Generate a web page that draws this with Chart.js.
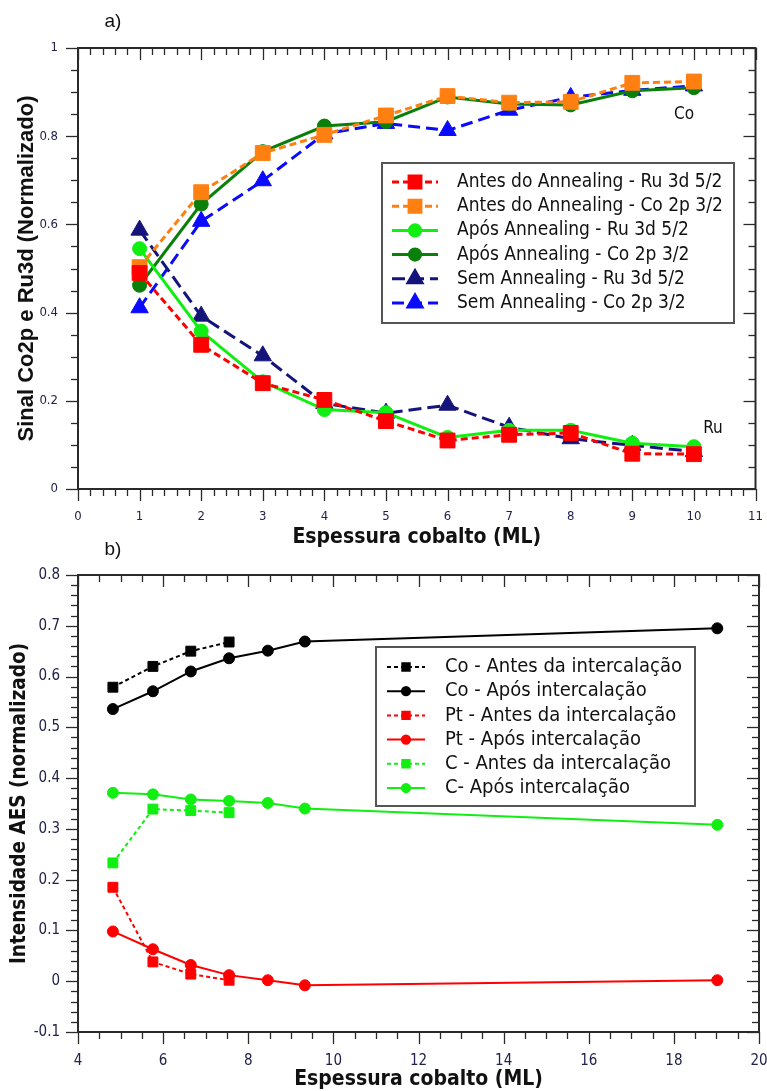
<!DOCTYPE html>
<html>
<head>
<meta charset="utf-8">
<title>Sinal Co2p e Ru3d / Intensidade AES</title>
<script src="https://cdn.jsdelivr.net/npm/chart.js@4.4.1/dist/chart.umd.min.js"></script>
<style>
  html, body { margin: 0; padding: 0; background: #fff; }
  body { position: relative; width: 767px; height: 1091px; overflow: hidden; }
  canvas { display: block; position: absolute; left: 0; }
  #chartA { top: 0; }
  #chartB { top: 530px; }
</style>
</head>
<body>
<canvas id="chartA" width="767" height="548"></canvas>
<canvas id="chartB" width="767" height="561"></canvas>
<script>
// ---- a) Sinal Co2p e Ru3d (normalizado) ----
const espessuraA = [1, 2, 3, 4, 5, 6, 7, 8, 9, 10];
const antesRu = [0.490, 0.327, 0.240, 0.202, 0.154, 0.110, 0.123, 0.127, 0.080, 0.079];
const antesCo = [0.503, 0.673, 0.762, 0.803, 0.847, 0.891, 0.876, 0.878, 0.921, 0.924];
const aposRu = [0.545, 0.358, 0.243, 0.180, 0.173, 0.117, 0.133, 0.133, 0.104, 0.096];
const aposCo = [0.462, 0.646, 0.765, 0.823, 0.833, 0.889, 0.873, 0.871, 0.903, 0.910];
const semRu = [0.587, 0.392, 0.302, 0.194, 0.172, 0.190, 0.140, 0.114, 0.099, 0.085];
const semCo = [0.411, 0.607, 0.699, 0.805, 0.829, 0.813, 0.859, 0.888, 0.904, 0.914];
const ticksXA = { min: 0, max: 11, step: 1, minor: 0.2 };
const ticksYA = { min: 0, max: 1, step: 0.2, minor: 0.05 };

// ---- b) Intensidade AES (normalizado) ----
const espessuraAntes = [4.82, 5.76, 6.65, 7.55];
const espessuraApos = [4.82, 5.76, 6.65, 7.55, 8.46, 9.33, 19.02];
const coAntes = [0.579, 0.620, 0.650, 0.668];
const coApos = [0.536, 0.571, 0.610, 0.636, 0.651, 0.669, 0.695];
const ptAntes = [0.185, 0.038, 0.014, 0.002];
const ptApos = [0.098, 0.063, 0.032, 0.012, 0.002, -0.008, 0.002];
const cAntes = [0.233, 0.339, 0.336, 0.332];
const cApos = [0.371, 0.368, 0.358, 0.355, 0.351, 0.340, 0.308];
const ticksXB = { min: 4, max: 20, step: 2, minor: 0.5 };
const ticksYB = { min: -0.1, max: 0.8, step: 0.1, minor: 0.02 };

const TICK_COLOR = '#22224a';
const FRAME_COLOR = '#2a2a2a';
const SANS = "'DejaVu Sans Condensed', 'DejaVu Sans', sans-serif";

function serie(label, xs, ys, color, dash, style, radius, width) {
    return {
        label: label,
        data: xs.map((x, i) => ({ x: x, y: ys[i] })),
        borderColor: color,
        backgroundColor: color,
        borderWidth: width,
        borderDash: dash,
        pointStyle: style,
        pointRadius: radius,
        pointBorderWidth: 1,
        pointBorderColor: color,
        pointBackgroundColor: color,
        tension: 0,
        fill: false
    };
}

// moldura e marcas menores/maiores nos quatro lados
const frameTicks = {
    id: 'frameTicks',
    beforeDatasetsDraw(chart, args, opts) {
        const { ctx, chartArea: a, scales: { x, y } } = chart;
        ctx.save();
        ctx.strokeStyle = FRAME_COLOR;
        ctx.lineWidth = 1.3;
        const seg = (x0, y0, x1, y1) => {
            ctx.beginPath(); ctx.moveTo(x0, y0); ctx.lineTo(x1, y1); ctx.stroke();
        };
        const nx = Math.round((opts.x.max - opts.x.min) / opts.x.minor);
        const rx = Math.round(opts.x.step / opts.x.minor);
        for (let i = 0; i <= nx; i++) {
            const px = Math.round(x.getPixelForValue(opts.x.min + i * opts.x.minor)) + 0.5;
            const len = i % rx === 0 ? 12 : 7;
            seg(px, a.bottom, px, a.bottom + len);
            seg(px, a.top, px, a.top + len);
        }
        const ny = Math.round((opts.y.max - opts.y.min) / opts.y.minor);
        const ry = Math.round(opts.y.step / opts.y.minor);
        for (let i = 0; i <= ny; i++) {
            const py = Math.round(y.getPixelForValue(opts.y.min + i * opts.y.minor)) + 0.5;
            const len = i % ry === 0 ? 12 : 7;
            seg(a.left - len, py, a.left, py);
            seg(a.right - len, py, a.right, py);
        }
        ctx.lineWidth = 2;
        ctx.strokeRect(a.left, a.top, a.right - a.left, a.bottom - a.top);
        ctx.restore();
    }
};

// legenda em caixa, títulos dos eixos e anotações
const boxLegend = {
    id: 'boxLegend',
    afterDatasetsDraw(chart, args, opts) {
        const { ctx, chartArea: a } = chart;
        ctx.save();
        const b = opts.box;
        ctx.fillStyle = '#fff';
        ctx.fillRect(b.x, b.y, b.w, b.h);
        ctx.strokeStyle = '#555';
        ctx.lineWidth = 2;
        ctx.strokeRect(b.x, b.y, b.w, b.h);
        ctx.font = opts.font;
        ctx.textBaseline = 'middle';
        ctx.textAlign = 'left';
        chart.data.datasets.forEach((ds, i) => {
            const ry = opts.rowY + i * opts.rowGap;
            ctx.strokeStyle = ds.borderColor;
            ctx.fillStyle = ds.borderColor;
            ctx.lineWidth = ds.borderWidth;
            ctx.setLineDash(ds.borderDash);
            ctx.beginPath();
            ctx.moveTo(opts.x0, ry);
            ctx.lineTo(opts.x1, ry);
            ctx.stroke();
            ctx.setLineDash([]);
            Chart.helpers.drawPoint(ctx, {
                pointStyle: ds.pointStyle,
                radius: ds.pointRadius * opts.markerScale,
                rotation: 0,
                borderWidth: 1
            }, (opts.x0 + opts.x1) / 2, ry);
            ctx.fillStyle = '#111';
            ctx.fillText(ds.label, opts.textX, ry);
        });

        ctx.fillStyle = '#111';
        (opts.notes || []).forEach(n => {
            ctx.font = n.font;
            ctx.textAlign = 'center';
            ctx.fillText(n.text, n.x, n.y);
        });

        // títulos dos eixos
        ctx.font = opts.titleFont;
        ctx.textAlign = 'center';
        ctx.fillText(opts.xTitle, (a.left + a.right) / 2, opts.xTitleY);
        ctx.save();
        ctx.translate(opts.yTitleX, (a.top + a.bottom) / 2);
        ctx.rotate(-Math.PI / 2);
        ctx.font = opts.yTitleFont;
        ctx.fillText(opts.yTitle, 0, 0);
        ctx.restore();
        ctx.restore();
    }
};

function axes(tx, ty, xPad, yPad, xHeight, fontSize) {
    const tickFont = { family: SANS, size: fontSize };
    const label = v => String(+v.toFixed(2));
    return {
        x: {
            type: 'linear', min: tx.min, max: tx.max,
            afterFit: s => { s.height = xHeight; s.paddingLeft = 0; s.paddingRight = 0; },
            grid: { display: false, drawTicks: false },
            border: { display: false },
            ticks: { stepSize: tx.step, padding: xPad, color: TICK_COLOR, font: tickFont, maxRotation: 0, callback: label }
        },
        y: {
            type: 'linear', min: ty.min, max: ty.max,
            afterFit: s => { s.width = 78; s.paddingTop = 0; s.paddingBottom = 0; },
            grid: { display: false, drawTicks: false },
            border: { display: false },
            ticks: { stepSize: ty.step, padding: yPad, color: TICK_COLOR, font: tickFont, callback: label }
        }
    };
}

const titleFont = "bold 21px " + SANS;

new Chart(document.getElementById('chartA'), {
    type: 'line',
    data: {
        datasets: [
            serie('Antes do Annealing - Ru 3d 5/2', espessuraA, antesRu, '#ff0000', [7, 4], 'rect', 10.5, 3),
            serie('Antes do Annealing - Co 2p 3/2', espessuraA, antesCo, '#ff8010', [7, 4], 'rect', 10.5, 3),
            serie('Após Annealing - Ru 3d 5/2', espessuraA, aposRu, '#11ee11', [], 'circle', 7, 3),
            serie('Após Annealing - Co 2p 3/2', espessuraA, aposCo, '#0a800a', [], 'circle', 7, 3),
            serie('Sem Annealing - Ru 3d 5/2', espessuraA, semRu, '#14147a', [13, 6], 'triangle', 10, 3),
            serie('Sem Annealing - Co 2p 3/2', espessuraA, semCo, '#0a0aff', [12, 6], 'triangle', 10, 3)
        ]
    },
    options: {
        responsive: false,
        animation: false,
        layout: { padding: { top: 48, right: 9, left: 0, bottom: 0 } },
        scales: axes(ticksXA, ticksYA, 20, 20, 59, 13),
        plugins: {
            legend: { display: false },
            tooltip: { enabled: false },
            frameTicks: { x: ticksXA, y: ticksYA },
            boxLegend: {
                box: { x: 382, y: 163, w: 352, h: 160 },
                rowY: 182, rowGap: 24.2, x0: 392, x1: 438, textX: 457,
                markerScale: 0.8,
                font: "19px " + SANS,
                notes: [
                    { text: 'Co', x: 684, y: 115, font: "17px " + SANS },
                    { text: 'Ru', x: 713, y: 429, font: "17px " + SANS },
                    { text: 'a)', x: 113, y: 22, font: "19px 'Liberation Sans', Arial, sans-serif" }
                ],
                titleFont: titleFont,
                xTitle: 'Espessura cobalto (ML)', xTitleY: 538,
                yTitleFont: "bold 22px 'Liberation Sans', Arial, sans-serif",
                yTitle: 'Sinal Co2p e Ru3d (Normalizado)', yTitleX: 27
            }
        }
    },
    plugins: [frameTicks, boxLegend]
});

new Chart(document.getElementById('chartB'), {
    type: 'line',
    data: {
        datasets: [
            serie('Co - Antes da intercalação', espessuraAntes, coAntes, '#000000', [4, 3], 'rect', 7, 2),
            serie('Co - Após intercalação', espessuraApos, coApos, '#000000', [], 'circle', 5.5, 2),
            serie('Pt - Antes da intercalação', espessuraAntes, ptAntes, '#ff0000', [4, 3], 'rect', 7, 2),
            serie('Pt - Após intercalação', espessuraApos, ptApos, '#ff0000', [], 'circle', 5.5, 2),
            serie('C - Antes da intercalação', espessuraAntes, cAntes, '#11ee11', [4, 3], 'rect', 7, 2),
            serie('C- Após intercalação', espessuraApos, cApos, '#11ee11', [], 'circle', 5.5, 2)
        ]
    },
    options: {
        responsive: false,
        animation: false,
        layout: { padding: { top: 45, right: 7, left: 0, bottom: 0 } },
        scales: axes(ticksXB, ticksYB, 20, 18, 59, 15),
        plugins: {
            legend: { display: false },
            tooltip: { enabled: false },
            frameTicks: { x: ticksXB, y: ticksYB },
            boxLegend: {
                box: { x: 376, y: 117, w: 319, h: 159 },
                rowY: 137, rowGap: 24.2, x0: 387, x1: 425, textX: 445,
                markerScale: 0.75,
                font: "20px " + SANS,
                notes: [
                    { text: 'b)', x: 113, y: 20, font: "19px 'Liberation Sans', Arial, sans-serif" }
                ],
                titleFont: titleFont,
                xTitle: 'Espessura cobalto (ML)', xTitleY: 550,
                yTitleFont: "bold 20.5px " + SANS,
                yTitle: 'Intensidade AES (normalizado)', yTitleX: 20
            }
        }
    },
    plugins: [frameTicks, boxLegend]
});
</script>
</body>
</html>
